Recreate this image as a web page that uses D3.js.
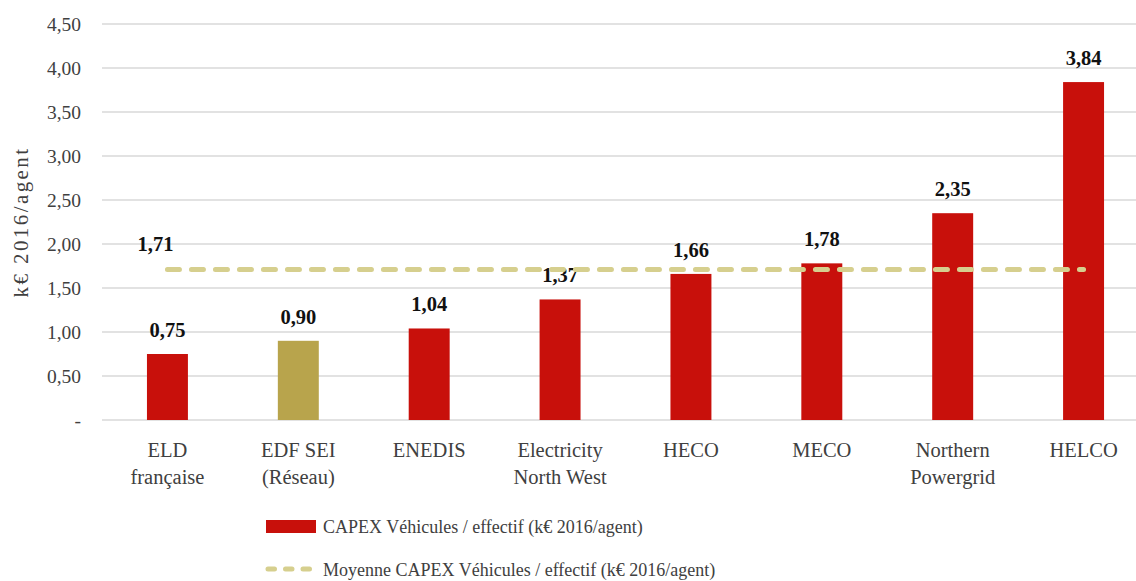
<!DOCTYPE html>
<html>
<head>
<meta charset="utf-8">
<script src="https://cdn.jsdelivr.net/npm/d3@7"></script>
<style>
  body { margin: 0; background: #fff; }
  svg { font-family: "Liberation Serif", "DejaVu Serif", serif; }
</style>
</head>
<body>
<div id="chart"></div>
<script>
// data
const categories = [
    ["ELD", "française"],
    ["EDF SEI", "(Réseau)"],
    ["ENEDIS"],
    ["Electricity", "North West"],
    ["HECO"],
    ["MECO"],
    ["Northern", "Powergrid"],
    ["HELCO"]
];
const values = [0.75, 0.90, 1.04, 1.37, 1.66, 1.78, 2.35, 3.84];
const average = 1.71;
const yTicks = [0, 0.5, 1, 1.5, 2, 2.5, 3, 3.5, 4, 4.5];
const seriesNames = ["CAPEX Véhicules / effectif (k€ 2016/agent)", "Moyenne CAPEX Véhicules / effectif (k€ 2016/agent)"];

const width = 1136, height = 581;
const margin = { top: 24, right: -13, bottom: 161, left: 102 };
const red = "#C8100B", gold = "#B8A44C", avgColor = "#D6CF8E";

const svg = d3.select("#chart").append("svg")
    .attr("width", width)
    .attr("height", height);

const keys = categories.map((c, i) => i);

const x = d3.scaleBand()
    .domain(keys)
    .range([margin.left, width - margin.right])
    .paddingInner(0.687)
    .paddingOuter(0.3435);

const y = d3.scaleLinear()
    .domain([0, 4.5])
    .range([height - margin.bottom, margin.top]);

const fmt = v => v === 0 ? "-" : d3.format(".2f")(v).replace(".", ",");

// gridlines
svg.append("g")
    .selectAll("line")
    .data(yTicks)
    .enter()
    .append("line")
    .attr("x1", margin.left)
    .attr("x2", width)
    .attr("y1", d => y(d))
    .attr("y2", d => y(d))
    .attr("stroke", "#d9d9d9")
    .attr("stroke-width", 1.5);

// y tick labels
svg.append("g")
    .selectAll("text")
    .data(yTicks)
    .enter()
    .append("text")
    .attr("x", 81)
    .attr("y", d => y(d))
    .attr("dy", "0.35em")
    .attr("text-anchor", "end")
    .attr("font-size", "19.5px")
    .attr("fill", "#404040")
    .text(fmt);

// y axis title
svg.append("text")
    .attr("transform", "translate(28, 222) rotate(-90)")
    .attr("text-anchor", "middle")
    .attr("font-size", "21px")
    .attr("letter-spacing", "2.4px")
    .attr("fill", "#404040")
    .text("k€ 2016/agent");

// bars
svg.selectAll("rect.bar")
    .data(values)
    .enter()
    .append("rect")
    .attr("class", "bar")
    .attr("x", (d, i) => x(i))
    .attr("y", d => y(d))
    .attr("width", x.bandwidth())
    .attr("height", d => y(0) - y(d))
    .attr("fill", (d, i) => i === 1 ? gold : red);

// value labels
svg.selectAll("text.count")
    .data(values)
    .enter()
    .append("text")
    .attr("class", "count")
    .attr("x", (d, i) => x(i) + x.bandwidth() / 2)
    .attr("y", d => y(d) - 17)
    .attr("text-anchor", "middle")
    .attr("font-size", "20.5px")
    .attr("font-weight", "bold")
    .attr("fill", "#111")
    .text(fmt);

// average line
const first = x(0) + x.bandwidth() / 2, last = x(keys.length - 1) + x.bandwidth() / 2;
svg.append("line")
    .attr("x1", first)
    .attr("x2", last)
    .attr("y1", y(average))
    .attr("y2", y(average))
    .attr("stroke", avgColor)
    .attr("stroke-width", 5)
    .attr("stroke-linecap", "round")
    .attr("stroke-dasharray", "12,12");

svg.append("text")
    .attr("x", first - 12)
    .attr("y", y(average) - 19)
    .attr("text-anchor", "middle")
    .attr("font-size", "20.5px")
    .attr("font-weight", "bold")
    .attr("fill", "#111")
    .text(fmt(average));

// x labels
const xl = svg.append("g")
    .selectAll("text")
    .data(categories)
    .enter()
    .append("text")
    .attr("x", (d, i) => x(i) + x.bandwidth() / 2)
    .attr("y", 457)
    .attr("text-anchor", "middle")
    .attr("font-size", "20.5px")
    .attr("fill", "#404040");
xl.selectAll("tspan")
    .data(d => d)
    .enter()
    .append("tspan")
    .attr("x", function() { return this.parentNode.getAttribute("x"); })
    .attr("dy", (d, i) => i === 0 ? 0 : 27)
    .text(d => d);

// legend
const legend = svg.append("g");
legend.append("rect")
    .attr("x", 266)
    .attr("y", 520)
    .attr("width", 50)
    .attr("height", 13)
    .attr("fill", red);
legend.append("text")
    .attr("x", 323)
    .attr("y", 533)
    .attr("font-size", "18px")
    .attr("fill", "#404040")
    .text(seriesNames[0]);
legend.append("line")
    .attr("x1", 268)
    .attr("x2", 312)
    .attr("y1", 569)
    .attr("y2", 569)
    .attr("stroke", avgColor)
    .attr("stroke-width", 5)
    .attr("stroke-linecap", "round")
    .attr("stroke-dasharray", "6.5,11");
legend.append("text")
    .attr("x", 323)
    .attr("y", 576)
    .attr("font-size", "18px")
    .attr("fill", "#404040")
    .text(seriesNames[1]);
</script>
</body>
</html>
